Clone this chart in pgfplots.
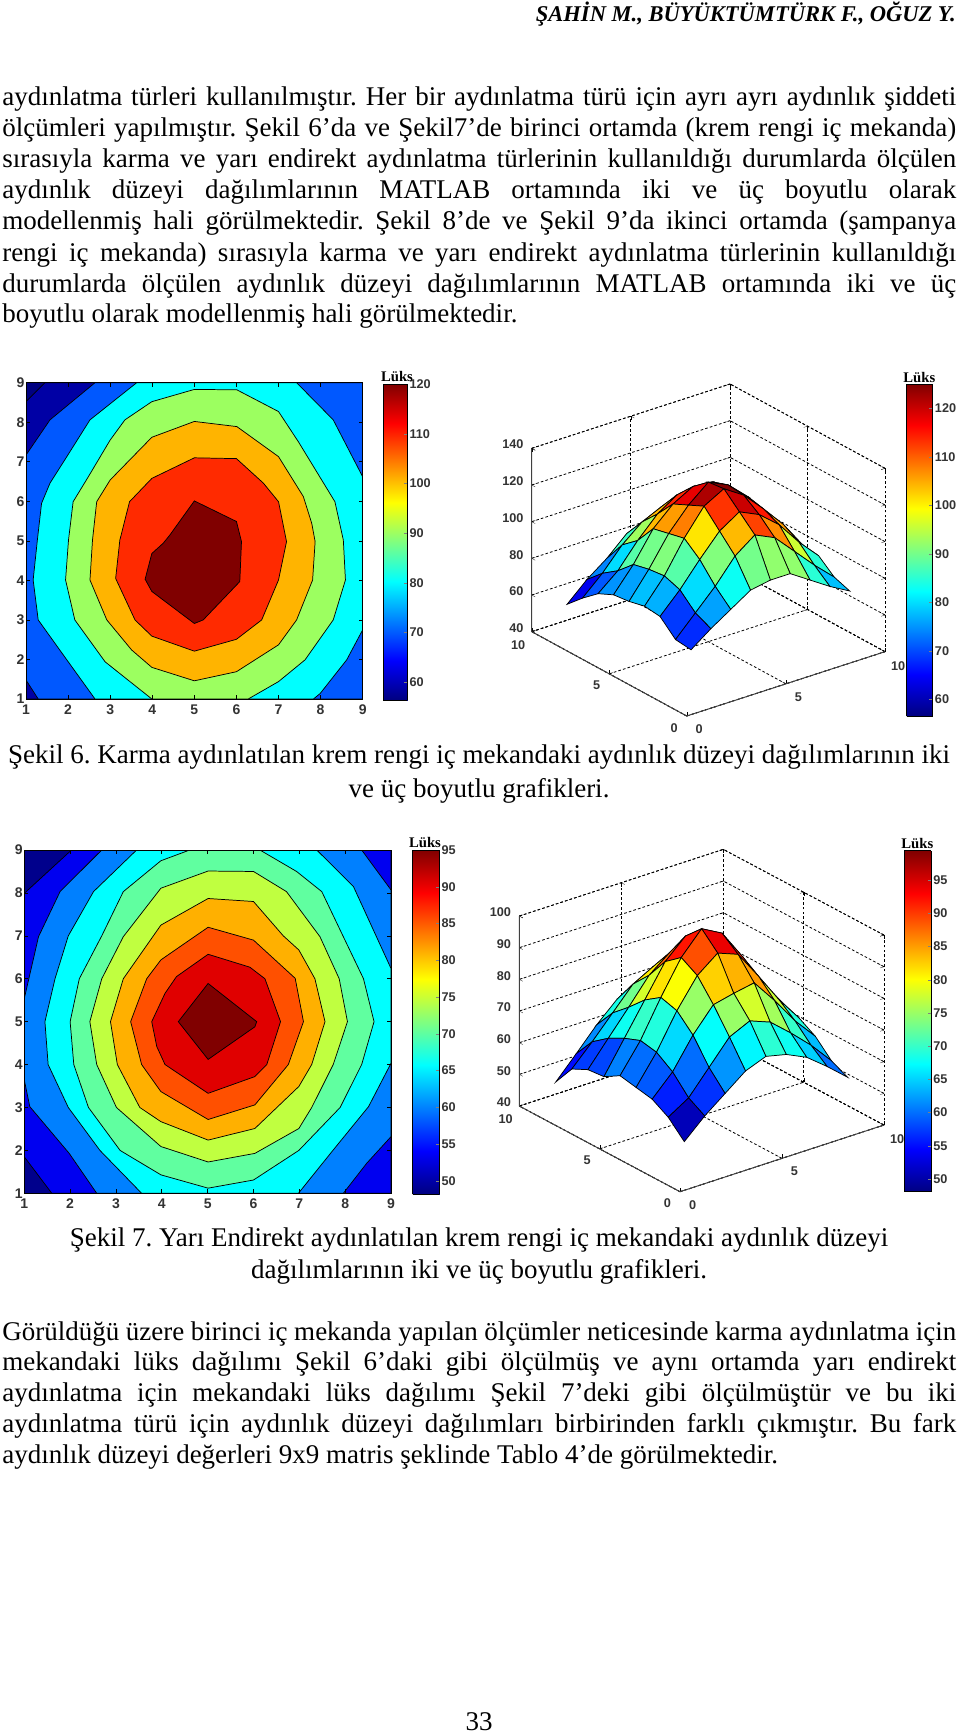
\documentclass[border=0pt]{standalone}
\usepackage{fontspec}
\setmainfont{Liberation Serif}
\setsansfont{Liberation Sans}
\usepackage{pgfplots}
\pgfplotsset{compat=1.18}
\frenchspacing
\newcommand\bodyfont{\fontsize{20.25}{24}\selectfont\frenchspacing}
\newcommand\J[2]{\node[anchor=base west,inner sep=0pt,font=\bodyfont] at (2*.75pt,-#1*.75pt) {\makebox[715.5pt][s]{#2}};}
\newcommand\Lft[2]{\node[anchor=base west,inner sep=0pt,font=\bodyfont] at (2*.75pt,-#1*.75pt) {#2};}
\newcommand\Ctr[3]{\node[anchor=base,inner sep=0pt,font=\bodyfont] at (#1*.75pt,-#2*.75pt) {#3};}
\newcommand\Luks[2]{\node[anchor=center,inner sep=0pt,font=\fontsize{11}{12}\selectfont\bfseries] at (#1*.75pt,-#2*.75pt) {Lüks};}
\definecolor{tk}{HTML}{333333}
\pgfplotsset{
 mat2d/.style={scale only axis,enlargelimits=false,axis on top,xmin=1,xmax=9,ymin=1,ymax=9,
  xtick={1,...,9},ytick={1,...,9},tick align=inside,major tick length=3pt,xtick pos=both,ytick pos=both,
  xticklabel pos=bottom,yticklabel pos=left,
  /pgf/number format/assume math mode=true,
  tick label style={font=\sffamily\bfseries\fontsize{10.5}{11}\selectfont,text=tk,inner sep=1pt},
  xticklabel style={yshift=-3pt},
  axis line style={black,line width=.6pt},tick style={black,line width=.5pt}},
 cont/.style={draw=black,line width=.55pt,mark=none},
 cbar/.style={scale only axis,enlargelimits=false,view={0}{90},colormap/jet,xtick=\empty,axis on top,
  xmin=0,xmax=1,ymin=#1,
  ytick pos=right,yticklabel pos=right,tick align=inside,major tick length=2.5pt,
  /pgf/number format/assume math mode=true,
  tick label style={font=\sffamily\bfseries\fontsize{9.5}{10}\selectfont,text=tk,inner sep=1.5pt},
  axis line style={black,line width=.5pt}},
 mat3d/.style={colormap/jet,xmin=0,xmax=10,ymin=0,ymax=10,
  xtick={0,5,10},ytick={0,5,10},grid=major,
  grid style={black,line width=.6pt,dash pattern=on 2pt off 1.6pt},
  axis line style={black,line width=.6pt,dash pattern=on 2pt off 1.6pt},
  /pgf/number format/assume math mode=true,
  tick label style={font=\sffamily\bfseries\fontsize{9.5}{10}\selectfont,text=tk,inner sep=1pt},
  xticklabel style={xshift=6.5pt,yshift=-5pt},
  yticklabel style={xshift=-6pt,yshift=-4pt},
  zticklabel style={xshift=-5pt,yshift=2pt},
  tick style={black,solid},major tick length=3pt,clip=false},
 msurf/.style={surf,shader=flat corner,draw=black,line width=.55pt},
}
\begin{document}
\begin{tikzpicture}
\path[use as bounding box,fill=white] (0,0) rectangle (720pt,-1299.75pt);

% ---------- page text ----------
\node[anchor=base east,inner sep=0pt,font=\fontsize{16.9}{20}\selectfont\bfseries\itshape] at (956*.75pt,-22*.75pt) {ŞAHİN M., BÜYÜKTÜMTÜRK F., OĞUZ Y.};
\J{106}{aydınlatma türleri kullanılmıştır. Her bir aydınlatma türü için ayrı ayrı aydınlık şiddeti}
\J{137}{ölçümleri yapılmıştır. Şekil 6’da ve Şekil7’de birinci ortamda (krem rengi iç mekanda)}
\J{168}{sırasıyla karma ve yarı endirekt aydınlatma türlerinin kullanıldığı durumlarda ölçülen}
\J{199}{aydınlık düzeyi dağılımlarının MATLAB ortamında iki ve üç boyutlu olarak}
\J{230}{modellenmiş hali görülmektedir. Şekil 8’de ve Şekil 9’da ikinci ortamda (şampanya}
\J{262}{rengi iç mekanda) sırasıyla karma ve yarı endirekt aydınlatma türlerinin kullanıldığı}
\J{293}{durumlarda ölçülen aydınlık düzeyi dağılımlarının MATLAB ortamında iki ve üç}
\Lft{323}{boyutlu olarak modellenmiş hali görülmektedir.}
\Ctr{479}{763}{Şekil 6. Karma aydınlatılan krem rengi iç mekandaki aydınlık düzeyi dağılımlarının iki}
\Ctr{479}{797}{ve üç boyutlu grafikleri.}
\Ctr{479}{1246}{Şekil 7. Yarı Endirekt aydınlatılan krem rengi iç mekandaki aydınlık düzeyi}
\Ctr{479}{1278}{dağılımlarının iki ve üç boyutlu grafikleri.}
\J{1340}{Görüldüğü üzere birinci iç mekanda yapılan ölçümler neticesinde karma aydınlatma için}
\J{1370}{mekandaki lüks dağılımı Şekil 6’daki gibi ölçülmüş ve aynı ortamda yarı endirekt}
\J{1401}{aydınlatma için mekandaki lüks dağılımı Şekil 7’deki gibi ölçülmüştür ve bu iki}
\J{1432}{aydınlatma türü için aydınlık düzeyi dağılımları birbirinden farklı çıkmıştır. Bu fark}
\Lft{1463}{aydınlık düzeyi değerleri 9x9 matris şeklinde Tablo 4’de görülmektedir.}
\Ctr{479}{1730}{33}

% ---------- Figure 6, contour ----------
\begin{axis}[mat2d,at={(26*.75pt,-382.7*.75pt)},anchor=north west,width=336.7*.75pt,height=316.3*.75pt]
\addplot[cont,fill={rgb,255:red,0;green,0;blue,128}] coordinates {(1,1)(9,1)(9,9)(1,9)} --cycle;
\addplot[cont,fill={rgb,255:red,0;green,0;blue,165}] coordinates {(1.45,9)(9,9)(9,1)(1,1)(1,8.52)} --cycle;
\addplot[cont,fill={rgb,255:red,0;green,88;blue,255}] coordinates {(2.64,9)(9,9)(9,1)(1.29,1)(1,1.48)(1,7.17)(1.57,8.06)} --cycle;
\addplot[cont,fill={rgb,255:red,0;green,255;blue,255}] coordinates {(3.63,9)(7.43,9)(8.30,8.06)(9,6.62)(9,2.75)(8.62,1.99)(7.99,1.14)(7.83,1)(2.64,1)(1.97,1.99)(1.29,3.0)(1.17,4.01)(1.27,5.02)(1.37,5.95)(1.57,6.46)(1.97,7.13)(2.52,8.06)} --cycle;
\addplot[cont,fill={rgb,255:red,156;green,255;blue,96}] coordinates {(5,8.83)(6.01,8.82)(7,8.27)(7.47,7.51)(8.34,5.99)(8.54,5.02)(8.59,4.01)(8.30,3.0)(7.63,1.99)(7,1.44)(6.28,1)(3.99,1)(2.88,1.94)(2.16,3.0)(1.94,4.01)(2.01,5.02)(2.12,5.99)(2.48,6.62)(3,7.55)(3.35,8.06)(3.99,8.52)} --cycle;
\addplot[cont,fill={rgb,255:red,255;green,180;blue,0}] coordinates {(5,8.02)(6.01,7.89)(7,7.13)(7.59,6.12)(7.79,5.44)(7.87,4.98)(7.81,4.01)(7.43,3)(7,2.37)(6,1.69)(5,1.46)(3.99,1.8)(3.51,2.24)(2.92,3)(2.52,4.01)(2.58,5.02)(2.68,5.99)(3,6.54)(3.99,7.62)} --cycle;
\addplot[cont,fill={rgb,255:red,255;green,42;blue,0}] coordinates {(5,7.1)(6,7.08)(6.64,6.46)(7,5.99)(7.19,4.98)(7,4.01)(6.6,3)(6,2.51)(5,2.21)(3.99,2.59)(3.59,3)(3.13,4.05)(3.23,5.02)(3.46,5.99)(3.99,6.58)} --cycle;
\addplot[cont,fill={rgb,255:red,128;green,0;blue,0}] coordinates {(5,6.01)(6,5.49)(6.12,4.98)(6.08,3.97)(5.21,3)(5,2.91)(3.99,3.72)(3.83,4.03)(3.99,4.68)(4.26,4.94)(4.42,5.15)} --cycle;
\end{axis}
\begin{axis}[cbar=56.4,ymax=120,at={(383.3*.75pt,-384*.75pt)},anchor=north west,width=24*.75pt,height=316*.75pt,ytick={60,70,...,120},point meta min=56.4,point meta max=120]
\addplot3[surf,shader=interp,point meta=y] coordinates {(0,56.4,0)(1,56.4,0)

(0,120,0)(1,120,0)};
\end{axis}
\Luks{397}{377}

% ---------- Figure 6, surface ----------
\begin{axis}[mat3d,at={(531.7*.75pt,-716*.75pt)},anchor=south west,
 x={(14.875pt,4.825pt)},y={(-11.625pt,6.325pt)},z={(0pt,1.375pt)},
 zmin=40,zmax=140,ztick={40,60,...,140},point meta min=56.6,point meta max=125]
\addplot3[msurf] coordinates {
(1,1,68)(2,1,76)(3,1,83)(4,1,90)(5,1,92)(6,1,92)(7,1,85)(8,1,78)(9,1,72)

(1,2,69)(2,2,80)(3,2,91)(4,2,104)(5,2,112)(6,2,107)(7,2,96)(8,2,85)(9,2,75)

(1,3,77)(2,3,88)(3,3,101)(4,3,113)(5,3,120)(6,3,115)(7,3,106)(8,3,93)(9,3,82)

(1,4,78)(2,4,91)(3,4,108)(4,4,122)(5,4,128)(6,4,121)(7,4,110)(8,4,98)(9,4,83)

(1,5,76)(2,5,90)(3,5,106)(4,5,118)(5,5,127)(6,5,122)(7,5,112)(8,5,98)(9,5,83)

(1,6,75)(2,6,88)(3,6,104)(4,6,114)(5,6,120)(6,6,119)(7,6,110)(8,6,95)(9,6,83)

(1,7,71)(2,7,80)(3,7,93)(4,7,104)(5,7,111)(6,7,110)(7,7,100)(8,7,91)(9,7,77)

(1,8,64)(2,8,74)(3,8,86)(4,8,95)(5,8,100)(6,8,99)(7,8,92)(8,8,84)(9,8,74)

(1,9,56)(2,9,66)(3,9,74)(4,9,84)(5,9,88)(6,9,88)(7,9,84)(8,9,74)(9,9,70)
};
\draw[black!75,line width=.7pt] (axis cs:0,10,140)--(axis cs:0,10,40)--(axis cs:0,0,40)--(axis cs:10,0,40);
\end{axis}
\begin{axis}[cbar=56.6,ymax=125,at={(906.7*.75pt,-384.3*.75pt)},anchor=north west,width=26*.75pt,height=331.7*.75pt,ytick={60,70,...,120},point meta min=56.6,point meta max=125]
\addplot3[surf,shader=interp,point meta=y] coordinates {(0,56.6,0)(1,56.6,0)

(0,125,0)(1,125,0)};
\end{axis}
\Luks{919.3}{377.3}

% ---------- Figure 7, contour ----------
\begin{axis}[mat2d,at={(24.3*.75pt,-850*.75pt)},anchor=north west,width=366.7*.75pt,height=343.3*.75pt]
\addplot[cont,fill={rgb,255:red,0;green,0;blue,140}] coordinates {(1,1)(9,1)(9,9)(1,9)} --cycle;
\addplot[cont,fill={rgb,255:red,0;green,0;blue,240}] coordinates {(2.03,9)(9,9)(9,1)(1.6,1)(1,1.85)(1,7.99)} --cycle;
\addplot[cont,fill={rgb,255:red,0;green,128;blue,255}] coordinates {(2.69,9)(8.36,9)(9,8.07)(9,2.32)(8.47,1.7)(7.96,1)(2.58,1)(1.98,1.93)(1.12,3.02)(1,3.64)(1,5.54)(1.31,6.98)(1.78,8.03)} --cycle;
\addplot[cont,fill={rgb,255:red,0;green,255;blue,255}] coordinates {(3.45,9)(7.38,9)(8.18,8.15)(9,6.24)(9,4.03)(8.51,3.02)(7.74,2.01)(6.98,1)(3.56,1)(2.65,2.0)(1.96,3.0)(1.52,4.0)(1.45,5)(1.67,6)(1.96,7)(2.51,8.03)} --cycle;
\addplot[cont,fill={rgb,255:red,96;green,255;blue,160}] coordinates {(4.61,9)(6.14,9)(6.94,8.5)(7.49,8.03)(7.96,6.98)(8.4,6)(8.63,5)(8.36,4)(7.89,3)(6.99,2)(6,1.31)(5.01,1.12)(3.98,1.43)(3.09,2)(2.4,3)(2.08,4)(2,5)(2.2,6)(2.69,7)(3.16,8.03)(3.98,8.75)} --cycle;
\addplot[cont,fill={rgb,255:red,192;green,255;blue,64}] coordinates {(5.01,8.51)(6,8.5)(6.72,8.03)(7.45,6.98)(7.87,6)(8.05,5)(7.74,4)(7.27,3)(6.99,2.51)(6.03,1.93)(5.01,1.73)(3.98,2.09)(3.01,3)(2.58,4)(2.43,5)(2.69,6)(3.16,6.98)(3.98,8.11)} --cycle;
\addplot[cont,fill={rgb,255:red,255;green,176;blue,0}] coordinates {(5.01,7.87)(6,7.8)(6.65,7)(6.99,6.67)(7.34,6)(7.56,5)(7.27,4)(6.99,3.49)(6.03,2.51)(5.01,2.24)(3.98,2.67)(3.52,3)(3.03,4)(2.88,5)(3.16,6)(3.98,7.25)} --cycle;
\addplot[cont,fill={rgb,255:red,255;green,80;blue,0}] coordinates {(5.01,7.2)(6,6.9)(6.91,6.01)(7.09,5)(6.76,4)(6.03,3.06)(5.01,2.72)(3.98,3.37)(3.56,4)(3.32,5)(3.67,6)(3.98,6.44)} --cycle;
\addplot[cont,fill={rgb,255:red,224;green,0;blue,0}] coordinates {(5.01,6.57)(5.92,6.27)(6.25,6)(6.59,5)(6.29,4)(6.03,3.72)(5.01,3.33)(4.07,4)(3.89,4.42)(3.78,5)(4.07,5.66)(4.32,6.05)} --cycle;
\addplot[cont,fill={rgb,255:red,128;green,0;blue,0}] coordinates {(5.01,5.89)(6.07,5)(6.03,4.88)(5.01,4.12)(4.36,5)} --cycle;
\end{axis}
\begin{axis}[cbar=48.2,ymax=95,at={(412.7*.75pt,-850*.75pt)},anchor=north west,width=26.6*.75pt,height=344*.75pt,ytick={50,55,...,95},point meta min=48.2,point meta max=95]
\addplot3[surf,shader=interp,point meta=y] coordinates {(0,48.2,0)(1,48.2,0)

(0,95,0)(1,95,0)};
\end{axis}
\Luks{425}{842.7}

% ---------- Figure 7, surface ----------
\begin{axis}[mat3d,at={(519.3*.75pt,-1191.7*.75pt)},anchor=south west,
 x={(15.3pt,5pt)},y={(-12.05pt,6.425pt)},z={(0pt,2.375pt)},
 zmin=40,zmax=100,ztick={40,50,...,100},point meta min=48.1,point meta max=99.4]
\addplot3[msurf] coordinates {
(1,1,51)(2,1,57)(3,1,62)(4,1,67)(5,1,69.5)(6,1,68)(7,1,65)(8,1,60)(9,1,54.5)

(1,2,56)(2,2,60)(3,2,67.5)(4,2,75)(5,2,78)(6,2,75.5)(7,2,70)(8,2,64)(9,2,57)

(1,3,59)(2,3,65.5)(3,3,75)(4,3,82.5)(5,3,84)(6,3,85.2)(7,3,77.5)(8,3,69)(9,3,62)

(1,4,60)(2,4,69)(3,4,80)(4,4,89)(5,4,94)(6,4,91.5)(7,4,82.5)(8,4,73)(9,4,65)

(1,5,61)(2,5,70)(3,5,81.5)(4,5,92)(5,5,99)(6,5,95.5)(7,5,86)(8,5,75.5)(9,5,67)

(1,6,58)(2,6,68)(3,6,78)(4,6,88)(5,6,94)(6,6,91.5)(7,6,84)(8,6,74.5)(9,6,66)

(1,7,57.5)(2,7,65.3)(3,7,73)(4,7,81)(5,7,86)(6,7,83.5)(7,7,79)(8,7,69.8)(9,7,62)

(1,8,55)(2,8,61.5)(3,8,68.5)(4,8,75.5)(5,8,79)(6,8,78.5)(7,8,73.5)(8,8,66)(9,8,59.5)

(1,9,48.2)(2,9,55)(3,9,62)(4,9,68)(5,9,71)(6,9,70.5)(7,9,67)(8,9,62)(9,9,58)
};
\draw[black!75,line width=.7pt] (axis cs:0,10,100)--(axis cs:0,10,40)--(axis cs:0,0,40)--(axis cs:10,0,40);
\end{axis}
\begin{axis}[cbar=48.1,ymax=99.4,at={(904.3*.75pt,-850.7*.75pt)},anchor=north west,width=26.7*.75pt,height=341*.75pt,ytick={50,55,...,95},point meta min=48.1,point meta max=99.4]
\addplot3[surf,shader=interp,point meta=y] coordinates {(0,48.1,0)(1,48.1,0)

(0,99.4,0)(1,99.4,0)};
\end{axis}
\Luks{917.3}{843.3}
\end{tikzpicture}
\end{document}
